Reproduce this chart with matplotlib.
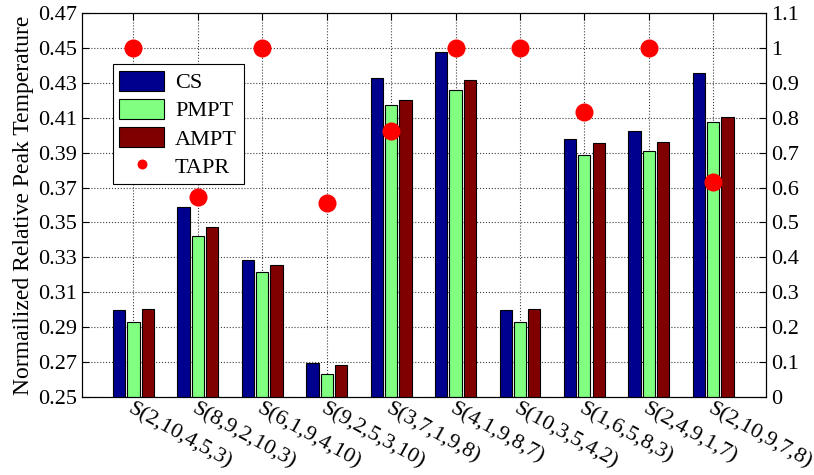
import numpy as np
import matplotlib.pyplot as plt

plt.rcParams['font.family'] = 'Liberation Serif'

# scenario labels (S tuples)
scenarios = ['S(2,10,4,5,3)', 'S(8,9,2,10,3)', 'S(6,1,9,4,10)', 'S(9,2,5,3,10)',
             'S(3,7,1,9,8)', 'S(4,1,9,8,7)', 'S(10,3,5,4,2)', 'S(1,6,5,8,3)',
             'S(2,4,9,1,7)', 'S(2,10,9,7,8)']

# normalized relative peak temperature per method
cs = [0.2997, 0.3587, 0.3285, 0.2695, 0.4326, 0.4477, 0.2997, 0.3978, 0.4022, 0.4357]
pmpt = [0.2930, 0.3423, 0.3214, 0.2634, 0.4172, 0.4261, 0.2930, 0.3889, 0.3912, 0.4078]
ampt = [0.3006, 0.3472, 0.3256, 0.2682, 0.4200, 0.4315, 0.3004, 0.3954, 0.3963, 0.4106]

# TAPR on the right-hand axis
tapr = [1.0, 0.572, 1.0, 0.557, 0.762, 1.0, 1.0, 0.816, 1.0, 0.617]

x = np.arange(1, len(scenarios) + 1)
width = 0.19
offset = 0.222

fig = plt.figure(figsize=(8.14, 4.75), dpi=100)
ax = fig.add_axes([0.1007, 0.1642, 0.8403, 0.8084])

b1 = ax.bar(x - offset, cs, width, color='#00008F', edgecolor='k', linewidth=0.8, label='CS')
b2 = ax.bar(x, pmpt, width, color='#80FF80', edgecolor='k', linewidth=0.8, label='PMPT')
b3 = ax.bar(x + offset, ampt, width, color='#800000', edgecolor='k', linewidth=0.8, label='AMPT')

ax.set_xlim(0.2, 10.82)
ax.set_ylim(0.25, 0.47)
yt = np.arange(0.25, 0.4701, 0.02)
ax.set_yticks(yt)
ax.set_yticklabels(['%.2f' % v for v in yt])
ax.set_xticks(x)
ax.set_xticklabels(scenarios, rotation=-29, ha='left', va='top',
                   rotation_mode='anchor', fontsize=15.5)
ax.set_ylabel('Normailized Relative Peak Temperature', fontsize=17, labelpad=3)
ax.tick_params(direction='in', length=5, labelsize=16, top=True, width=0.8)
ax.tick_params(axis='x', pad=2)
ax.grid(True, linestyle=':', color='0.25', linewidth=0.8)
ax.set_axisbelow(True)

ax2 = ax.twinx()
ln, = ax2.plot(x, tapr, 'o', color='#FF0000', markersize=13, markeredgewidth=0, label='TAPR')
ax2.set_ylim(0, 1.1)
ax2.set_yticks(np.arange(0, 1.101, 0.1))
ax2.set_yticklabels(['0', '0.1', '0.2', '0.3', '0.4', '0.5', '0.6', '0.7', '0.8', '0.9', '1', '1.1'])
ax2.tick_params(direction='in', length=5, labelsize=16, width=0.8)

leg = ax2.legend([b1, b2, b3, ln], ['CS', 'PMPT', 'AMPT', 'TAPR'], loc='upper left',
                 bbox_to_anchor=(0.045, 0.867), borderaxespad=0, fontsize=16,
                 fancybox=False, framealpha=1, edgecolor='k', handlelength=2.0,
                 handleheight=1.0, markerscale=0.55, labelspacing=0.25,
                 handletextpad=0.5, borderpad=0.3)
leg.get_frame().set_linewidth(0.8)

fig.savefig('out.png', dpi=100)
